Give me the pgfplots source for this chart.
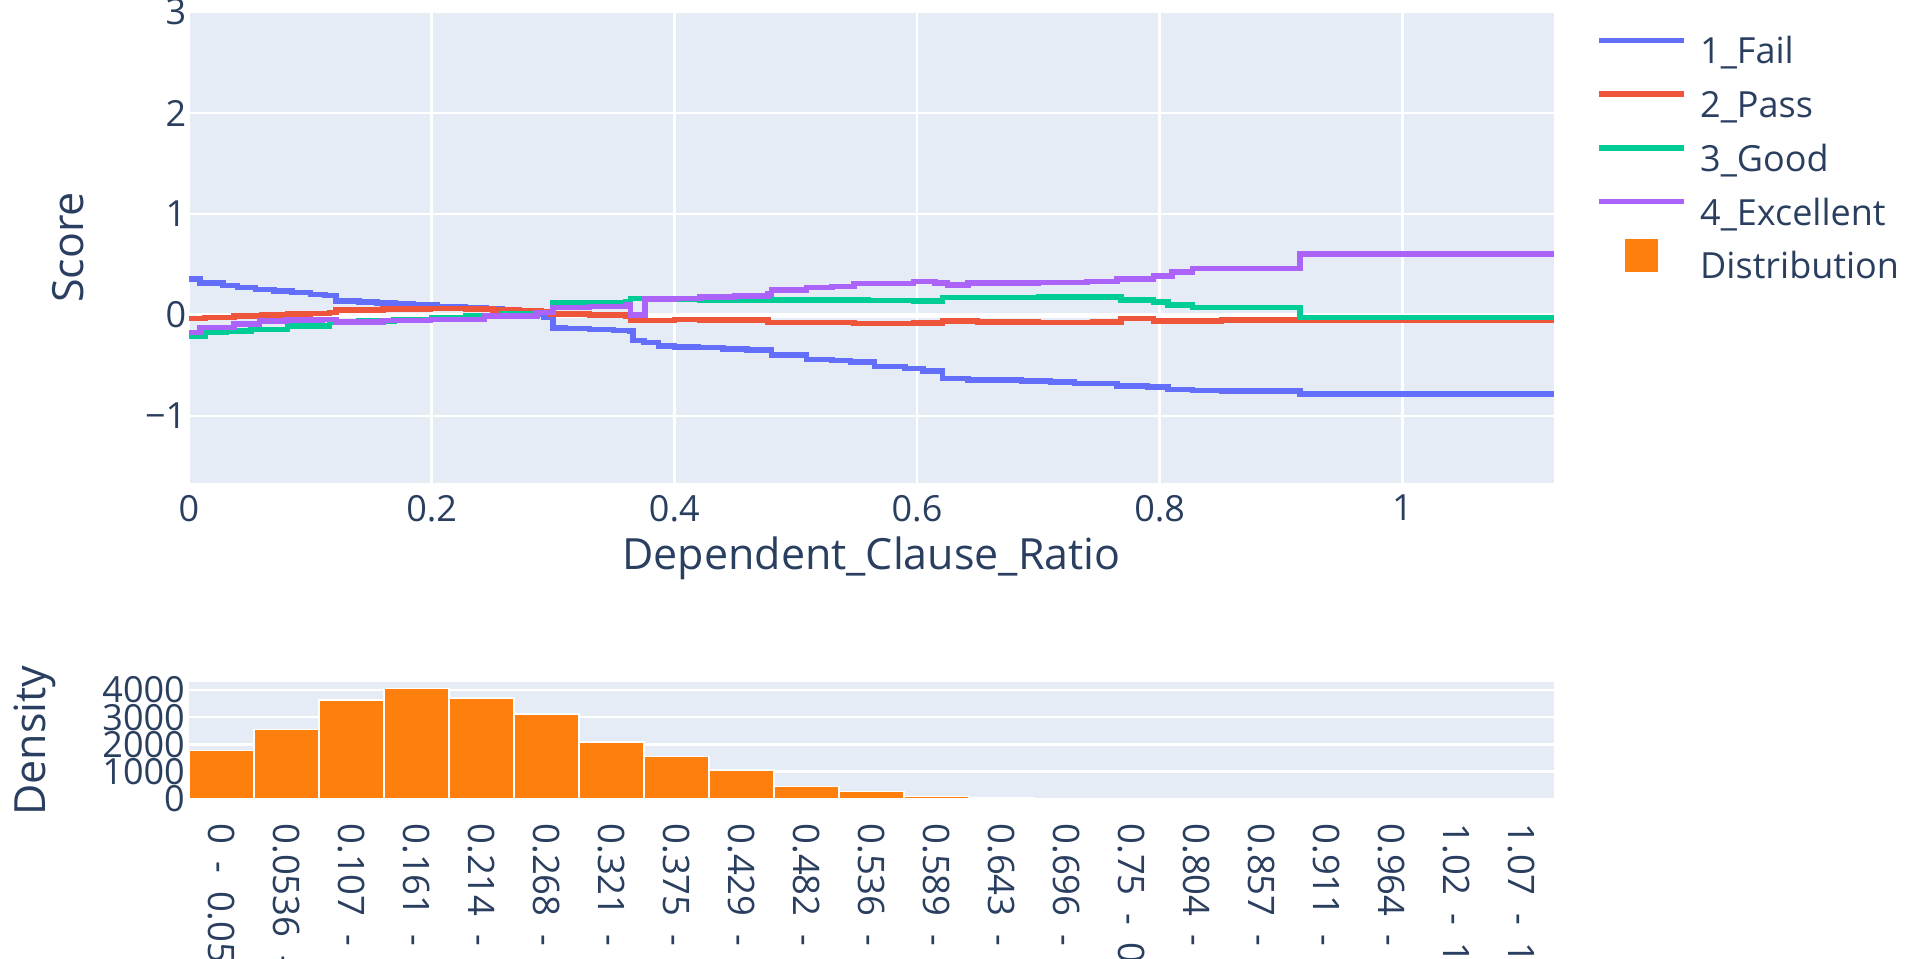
\documentclass[border=0pt]{standalone}
\usepackage{pgfplots}
\pgfplotsset{compat=1.18}
\usepackage{fontspec}
\setmainfont{Open Sans}
\definecolor{txt}{HTML}{2A3F5F}
\definecolor{bg}{HTML}{E5ECF6}
\definecolor{cfail}{HTML}{636EFA}
\definecolor{cpass}{HTML}{EF553B}
\definecolor{cgood}{HTML}{00CC96}
\definecolor{cexc}{HTML}{AB63FA}
\definecolor{corange}{HTML}{FF7F0E}
\newcommand\sep{\hspace{0.48em}}
\begin{document}
\begin{tikzpicture}
\pgfplotsset{
  common/.style={
    scale only axis, width=1365bp,
    axis line style={draw=none}, tick style={draw=none},
    axis background/.style={fill=bg},
    major grid style={white, line width=2.5bp},
    every tick label/.append style={font=\fontsize{36bp}{43bp}\selectfont, text=txt, inner sep=0pt},
    label style={font=\fontsize{43bp}{51bp}\selectfont, text=txt},
    /pgf/number format/assume math mode=true,
    enlargelimits=false,
  }
}
\begin{axis}[common, at={(189bp,476bp)}, anchor=south west, height=471bp,
  xmin=0, xmax=1.125, ymin=-1.663, ymax=3,
  xmajorgrids=true, ymajorgrids=true,
  xtick={0,0.2,0.4,0.6,0.8,1}, xticklabels={0,0.2,0.4,0.6,0.8,1},
  ytick={-1,0,1,2,3}, yticklabels={−1,0,1,2,3},
  extra y ticks={0}, extra y tick labels={},
  extra y tick style={major grid style={white, line width=5bp}},
  xticklabel shift=12bp, yticklabel shift=2.5bp,
  xlabel={Dependent\_Clause\_Ratio}, ylabel={Score},
  x label style={at={(axis description cs:0.5,-0.1841)}, anchor=base},
  y label style={at={(axis description cs:-0.07744,0.5)}, anchor=base},
  legend style={at={(1.0313,0.9535)}, anchor=north west, draw=none, fill=none,
    inner sep=0pt, outer sep=0pt, row sep=14.75bp,
    font=\fontsize{36bp}{43bp}\selectfont, text=txt,
    nodes={inner sep=0pt, text height=30bp, text depth=9bp},
    /tikz/every odd column/.append style={column sep=13bp}},
  legend cell align=left,
  legend image code/.code={\draw[#1] (0bp,13bp) -- (85bp,13bp);},
]
\addplot[cfail, line width=5.5bp, const plot] coordinates {
(0,0.355) (0.009,0.315) (0.028,0.29) (0.040,0.27) (0.055,0.255) (0.070,0.24)
(0.085,0.222) (0.100,0.205) (0.112,0.192) (0.121,0.14) (0.140,0.13) (0.155,0.117)
(0.170,0.107) (0.185,0.097) (0.205,0.085) (0.228,0.074) (0.245,0.058) (0.258,0.041)
(0.270,0.025) (0.281,0.008) (0.292,-0.02) (0.300,-0.13) (0.310,-0.135) (0.330,-0.145)
(0.350,-0.152) (0.363,-0.16) (0.366,-0.25) (0.375,-0.27) (0.387,-0.306) (0.40,-0.315)
(0.42,-0.322) (0.44,-0.335) (0.46,-0.345) (0.480,-0.398) (0.509,-0.438) (0.530,-0.452)
(0.545,-0.465) (0.565,-0.511) (0.590,-0.53) (0.605,-0.554) (0.621,-0.630) (0.642,-0.643)
(0.686,-0.654) (0.710,-0.665) (0.730,-0.676) (0.765,-0.702) (0.790,-0.715) (0.807,-0.735)
(0.827,-0.748) (0.851,-0.752) (0.9155,-0.782) (1.125,-0.782)};
\addlegendentry{1\_Fail}
\addplot[cpass, line width=5.5bp, const plot] coordinates {
(0,-0.035) (0.013,-0.025) (0.037,-0.009) (0.060,0.0) (0.081,0.008) (0.100,0.017)
(0.116,0.025) (0.121,0.048) (0.160,0.058) (0.199,0.064) (0.228,0.058) (0.250,0.05)
(0.272,0.041) (0.290,0.03) (0.298,0.012) (0.330,0.0) (0.360,-0.009) (0.364,-0.055)
(0.40,-0.045) (0.421,-0.048) (0.477,-0.075) (0.548,-0.085) (0.597,-0.08) (0.621,-0.058)
(0.650,-0.068) (0.700,-0.075) (0.745,-0.07) (0.768,-0.035) (0.795,-0.058) (0.851,-0.05)
(0.9155,-0.052) (1.125,-0.052)};
\addlegendentry{2\_Pass}
\addplot[cgood, line width=5.5bp, const plot] coordinates {
(0,-0.207) (0.013,-0.174) (0.031,-0.16) (0.051,-0.141) (0.081,-0.108) (0.116,-0.075)
(0.140,-0.06) (0.169,-0.042) (0.200,-0.025) (0.228,-0.009) (0.258,0.008) (0.287,0.025)
(0.300,0.117) (0.330,0.125) (0.360,0.130) (0.364,0.165) (0.40,0.160) (0.421,0.145)
(0.477,0.150) (0.560,0.145) (0.597,0.14) (0.621,0.173) (0.700,0.18) (0.765,0.183)
(0.768,0.150) (0.795,0.130) (0.807,0.097) (0.827,0.074) (0.9155,-0.025) (1.125,-0.025)};
\addlegendentry{3\_Good}
\addplot[cexc, line width=5.5bp, const plot] coordinates {
(0,-0.174) (0.009,-0.124) (0.037,-0.091) (0.058,-0.058) (0.080,-0.05) (0.110,-0.042)
(0.121,-0.068) (0.160,-0.055) (0.199,-0.042) (0.243,-0.009) (0.287,0.025) (0.300,0.074)
(0.330,0.085) (0.360,0.097) (0.364,0.0) (0.376,0.157) (0.40,0.165) (0.421,0.180)
(0.450,0.19) (0.477,0.206) (0.480,0.249) (0.509,0.272) (0.530,0.28) (0.548,0.312)
(0.597,0.332) (0.615,0.316) (0.625,0.295) (0.642,0.316) (0.700,0.322) (0.740,0.33)
(0.765,0.355) (0.795,0.388) (0.810,0.427) (0.827,0.461) (0.9155,0.603) (1.125,0.603)};
\addlegendentry{4\_Excellent}
\addlegendimage{legend image code/.code={\path[draw=none, fill=none] (0bp,13bp) -- (85bp,13bp); \path[fill=corange, draw=none, overlay] (26bp,-3.5bp) rectangle (59bp,29.5bp);}}
\addlegendentry{Distribution}
\end{axis}
\begin{axis}[common, at={(189bp,160bp)}, anchor=south west, height=117bp,
  xmin=-0.5, xmax=20.5, ymin=0, ymax=4290,
  xmajorgrids=false, ymajorgrids=true,
  xtick={0,1,2,3,4,5,6,7,8,9,10,11,12,13,14,15,16,17,18,19,20},
  xticklabels={0\sep-\sep0.0536,0.0536\sep-\sep0.107,0.107\sep-\sep0.161,0.161\sep-\sep0.214,0.214\sep-\sep0.268,0.268\sep-\sep0.321,0.321\sep-\sep0.375,0.375\sep-\sep0.429,0.429\sep-\sep0.482,0.482\sep-\sep0.536,0.536\sep-\sep0.589,0.589\sep-\sep0.643,0.643\sep-\sep0.696,0.696\sep-\sep0.75,0.75\sep-\sep0.804,0.804\sep-\sep0.857,0.857\sep-\sep0.911,0.911\sep-\sep0.964,0.964\sep-\sep1.02,1.02\sep-\sep1.07,1.07\sep-\sep1.13},
  ytick={0,1000,2000,3000,4000}, yticklabels={0,1000,2000,3000,4000},
  xticklabel style={rotate=-90, anchor=west, font=\fontsize{36.5bp}{44bp}\selectfont},
  xticklabel shift=20bp, yticklabel shift=4bp,
  ylabel={Density},
  y label style={at={(axis description cs:-0.10549,0.5)}, anchor=base},
  ybar, bar width=1,
]
\addplot[fill=corange, draw=white, line width=1.5bp, bar shift=0pt] coordinates {
(0,1780) (1,2540) (2,3630) (3,4060) (4,3700) (5,3110) (6,2090) (7,1550) (8,1060)
(9,450) (10,270) (11,90) (12,30) (13,10) (14,6) (15,4) (16,3) (17,2) (18,2) (19,1) (20,1)};
\end{axis}
\pgfresetboundingbox
\path[use as bounding box] (0,0) rectangle (1906bp,959bp);
\end{tikzpicture}
\end{document}
